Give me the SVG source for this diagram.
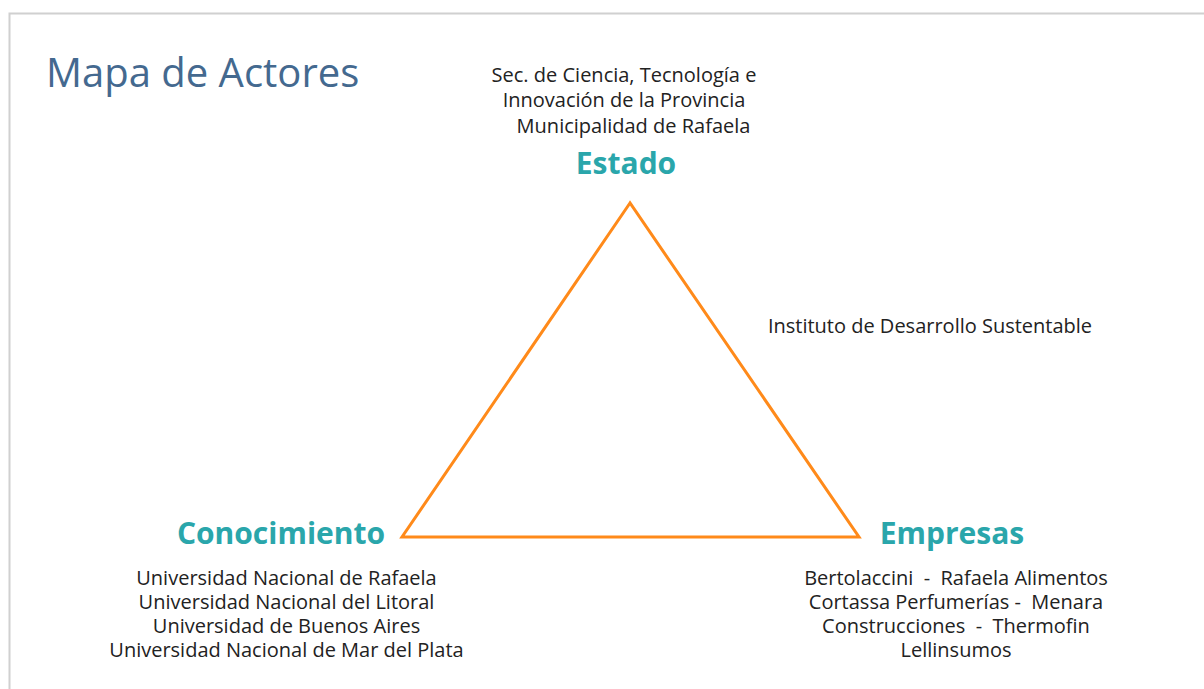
<svg xmlns="http://www.w3.org/2000/svg" width="1204" height="689" viewBox="0 0 1204 689">
<style>
.t{font-family:"Open Sans","Liberation Sans",sans-serif;fill:#222;font-size:20px;text-anchor:middle;white-space:pre}
.h{font-family:"Open Sans","Liberation Sans",sans-serif;fill:#2AA6AB;font-size:30px;font-weight:700;text-anchor:middle}
.title{font-family:"Open Sans","Liberation Sans",sans-serif;fill:#44698F;font-size:40px}
</style>
<rect width="1204" height="689" fill="#fff"/>
<path d="M9.5 689 V13.5 H1204" fill="none" stroke="#d0d0d0" stroke-width="2"/>
<text class="title" x="46" y="87">Mapa de Actores</text>
<g id="connectors">
<polygon points="630,203 402,537 859,537" fill="none" stroke="#FF8A1A" stroke-width="3" stroke-linejoin="miter"/>
</g>
<g id="estado">
<text class="t" x="624" y="82">Sec. de Ciencia, Tecnología e</text>
<text class="t" x="624" y="107">Innovación de la Provincia</text>
<text class="t" x="633.5" y="133">Municipalidad de Rafaela</text>
<text class="h" x="626" y="174">Estado</text>
</g>
<g id="instituto">
<text class="t" x="930" y="333">Instituto de Desarrollo Sustentable</text>
</g>
<g id="conocimiento">
<text class="h" x="281" y="544">Conocimiento</text>
<text class="t" x="286.5" y="585">Universidad Nacional de Rafaela</text>
<text class="t" x="286.5" y="609">Universidad Nacional del Litoral</text>
<text class="t" x="286.5" y="633">Universidad de Buenos Aires</text>
<text class="t" x="286.5" y="657">Universidad Nacional de Mar del Plata</text>
</g>
<g id="empresas">
<text class="h" x="952" y="544">Empresas</text>
<text class="t" x="956" y="585" xml:space="preserve">Bertolaccini  -  Rafaela Alimentos</text>
<text class="t" x="956" y="609" xml:space="preserve">Cortassa Perfumerías -  Menara</text>
<text class="t" x="956" y="633" xml:space="preserve">Construcciones  -  Thermofin</text>
<text class="t" x="956" y="657">Lellinsumos</text>
</g>
</svg>
